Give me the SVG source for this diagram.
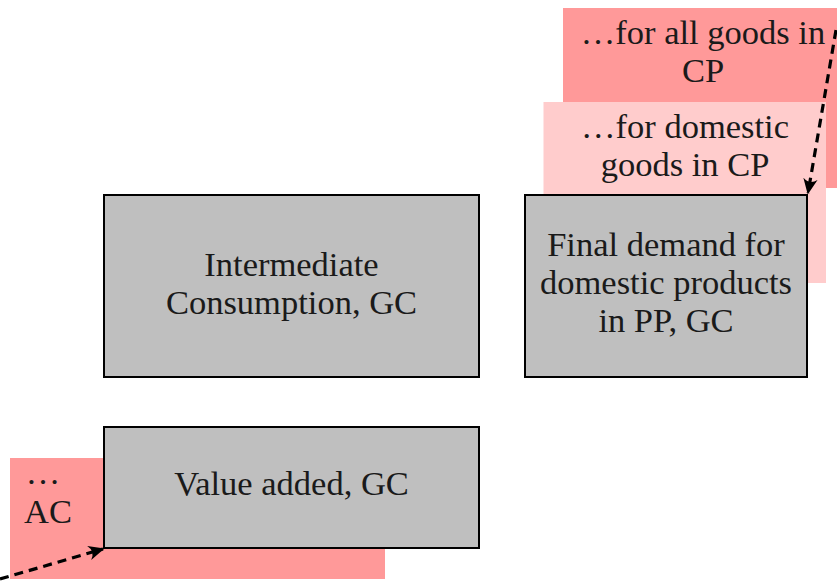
<svg xmlns="http://www.w3.org/2000/svg" width="837" height="582" viewBox="0 0 837 582">
<style>
text{font-family:"Liberation Serif","Times New Roman",serif;font-size:34.5px;fill:#1a1a1a;text-anchor:middle}
.box{fill:#bfbfbf;stroke:#000;stroke-width:2}
.dark{fill:#ff9999}
.light{fill:#ffcccc}
.conn{fill:none;stroke:#000;stroke-width:3.2;stroke-dasharray:9 6}
</style>
<defs>
<marker id="ah" viewBox="0 0 10 10" refX="9" refY="5" markerWidth="5" markerHeight="5" orient="auto" markerUnits="strokeWidth">
<path d="M0,0.5 Q4,5 0,9.5 L10,5 Z" fill="#000"/>
</marker>
</defs>
<g id="allgoods">
<rect class="dark" x="563" y="8" width="280" height="180"/>
<text x="703" y="44">…for all goods in</text>
<text x="703" y="82">CP</text>
</g>
<g id="domgoods">
<rect class="light" x="543.5" y="102" width="282.5" height="181"/>
<text x="685" y="138">…for domestic</text>
<text x="685" y="176">goods in CP</text>
</g>
<g id="ac">
<rect class="dark" x="10" y="458" width="375" height="121"/>
<text x="43" y="484">…</text>
<text x="48" y="523">AC</text>
</g>
<g id="ic">
<rect class="box" x="104" y="195" width="375" height="182"/>
<text x="291.5" y="276">Intermediate</text>
<text x="291.5" y="314">Consumption, GC</text>
</g>
<g id="fd">
<rect class="box" x="525" y="195" width="282" height="182"/>
<text x="666" y="256">Final demand for</text>
<text x="666" y="294">domestic products</text>
<text x="666" y="332">in PP, GC</text>
</g>
<g id="va">
<rect class="box" x="104" y="427" width="375" height="121"/>
<text x="291.5" y="495">Value added, GC</text>
</g>
<g id="connectors">
<path class="conn" d="M836,30 L808,193" marker-end="url(#ah)"/>
<path class="conn" d="M0,579 L103,549" marker-end="url(#ah)"/>
</g>
</svg>
